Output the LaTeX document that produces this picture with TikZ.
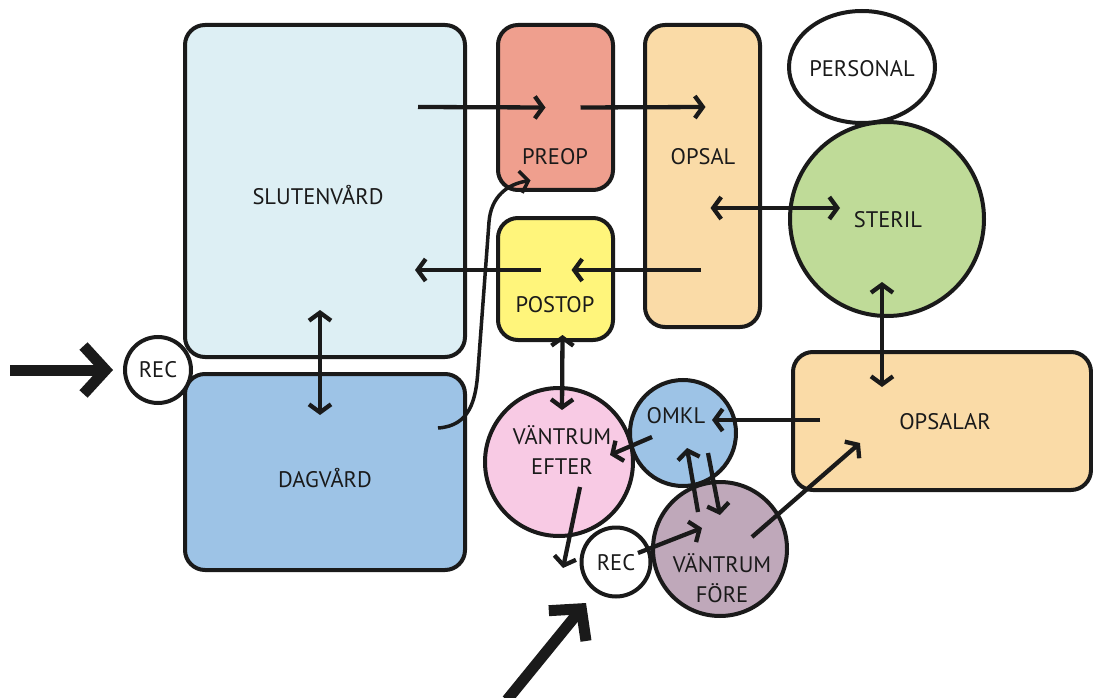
\documentclass[tikz,border=0pt]{standalone}
\usepackage{fontspec}
\setmainfont{PT Sans}
\usetikzlibrary{arrows.meta,calc,shapes.geometric}
\definecolor{cslut}{HTML}{DDEFF4}
\definecolor{cdag}{HTML}{9DC3E6}
\definecolor{cpreop}{HTML}{EF9F8E}
\definecolor{cpostop}{HTML}{FFF57B}
\definecolor{copsal}{HTML}{FADBA7}
\definecolor{csteril}{HTML}{BFDB98}
\definecolor{cefter}{HTML}{F8CAE4}
\definecolor{cfore}{HTML}{BFA8BA}
\definecolor{ink}{HTML}{1A1A1A}
\tikzset{
  room/.style={draw=ink, line width=4pt, rounded corners=20pt, inner sep=0pt},
  disc/.style={draw=ink, line width=4pt, circle, inner sep=0pt},
  lbl/.style={text=ink, font=\fontsize{22.5}{30}\selectfont, align=center, inner sep=0pt},
  arr/.style={draw=ink, line width=4.3pt, -{Straight Barb[length=8pt,width=22pt]}},
  darr/.style={draw=ink, line width=4.3pt, {Straight Barb[length=8pt,width=22pt]}-{Straight Barb[length=8pt,width=22pt]}},
  bigarr/.style={draw=ink, line width=11pt, -{Straight Barb[length=22pt,width=48pt]}},
}
\begin{document}
\begin{tikzpicture}[x=1pt,y=-1pt]
\useasboundingbox (0,0) rectangle (1093,698);
% rooms
\node[room, fill=cslut, minimum width=280pt, minimum height=332pt] (slut) at (325,191) {};
\node[room, fill=cdag, minimum width=280pt, minimum height=196pt] (dag) at (325,472) {};
\node[room, fill=cpreop, minimum width=115pt, minimum height=165pt] (preop) at (555.5,107.5) {};
\node[room, fill=cpostop, minimum width=115pt, minimum height=122pt] (postop) at (555.5,279) {};
\node[room, fill=copsal, minimum width=115pt, minimum height=302pt] (opsal) at (702.5,176) {};
\node[room, fill=copsal, minimum width=298pt, minimum height=138pt] (opsalar) at (942,421) {};
\node[draw=ink, line width=4pt, ellipse, fill=white, minimum width=146pt, minimum height=112pt, inner sep=0pt] (personal) at (862,67) {};
\node[disc, fill=csteril, minimum size=194pt] (steril) at (887,219) {};
\node[disc, fill=white, minimum size=66pt] (rec1) at (158,370) {};
\node[disc, fill=cefter, minimum size=148pt] (efter) at (559,462) {};
\node[disc, fill=cdag, minimum size=106pt] (omkl) at (683,433) {};
\node[disc, fill=cfore, minimum size=134pt] (fore) at (720,549) {};
\node[disc, fill=white, minimum size=69pt] (rec2) at (616,562) {};
% labels
\node[lbl] at (318,195) {SLUTENVÅRD};
\node[lbl] at (325,478) {DAGVÅRD};
\node[lbl] at (555,157) {PREOP};
\node[lbl] at (555,305) {POSTOP};
\node[lbl] at (703,157) {OPSAL};
\node[lbl] at (945,422) {OPSALAR};
\node[lbl] at (862,69) {PERSONAL};
\node[lbl] at (888,220) {STERIL};
\node[lbl] at (158,370) {REC};
\node[lbl] at (616,563) {REC};
\node[lbl] at (676,416) {OMKL};
\node[lbl] at (562,450) {VÄNTRUM\\EFTER};
\node[lbl] at (722,578) {VÄNTRUM\\FÖRE};
% connectors
\draw[arr] ($(slut.center)+(93,-84)$) -- ($(preop.center)+(-10,0)$);
\draw[arr] ($(preop.center)+(25,0)$) -- ($(opsal.center)+(3,-69)$);
\draw[darr] ($(opsal.center)+(8,32)$) -- ($(steril.center)+(-47,-11)$);
\draw[arr] ($(opsal.center)+(-2,94)$) -- ($(postop.center)+(16,-9)$);
\draw[arr] ($(postop.center)+(-15,-9)$) -- ($(slut.center)+(90,79)$);
\draw[darr] ($(slut.center)+(-5,119)$) -- ($(dag.center)+(-5,-57)$);
\draw[draw=ink, line width=3.5pt, -{Straight Barb[length=8pt,width=22pt]}]
  ($(dag.center)+(113,-44)$) .. controls (470,426) and (476,400) .. (478,370)
  -- (489,222) .. controls (491,196) and (508,184) .. ($(preop.center)+(-25,73)$);
\draw[darr] ($(postop.center)+(7,56)$) -- ($(efter.center)+(3,-52)$);
\draw[arr] ($(opsalar.center)+(-122,-1)$) -- ($(omkl.center)+(29,-13)$);
\draw[arr] ($(omkl.center)+(-31,4)$) -- ($(efter.center)+(51,-7)$);
\draw[arr] ($(efter.center)+(21,25)$) -- ($(efter.center)+(4,106)$);
\draw[arr] ($(fore.center)+(-22,-37)$) -- ($(omkl.center)+(4,15)$);
\draw[arr] ($(omkl.center)+(25,20)$) -- ($(fore.center)+(0,-34)$);
\draw[arr] ($(rec2.center)+(22,-9)$) -- ($(fore.center)+(-18,-21)$);
\draw[arr] ($(fore.center)+(32,-12)$) -- ($(opsalar.center)+(-82,22)$);
\draw[darr] ($(steril.center)+(-5,63)$) -- ($(opsalar.center)+(-60,-34)$);
% big entry arrows
\coordinate (inL) at (10,370);
\coordinate (inB) at (507,700);
\draw[bigarr] (inL) -- ($(rec1.west)+(-10,0)$);
\draw[bigarr] (inB) -- ($(rec2.center)+(-30,41)$);
\end{tikzpicture}
\end{document}
